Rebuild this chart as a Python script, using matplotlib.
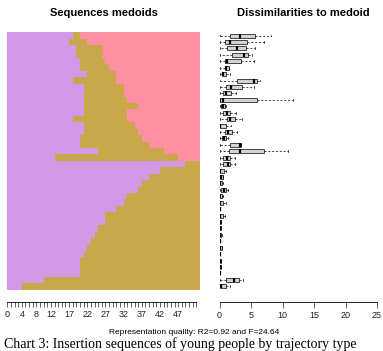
import matplotlib
matplotlib.use("Agg")
import matplotlib.pyplot as plt
import numpy as np

plt.rcParams['font.family'] = ['Liberation Sans', 'DejaVu Sans']

# ---------------- data ----------------
# state lengths of each medoid sequence (top row first)
purple_len = [18, 17, 19, 19, 20, 20, 22, 18, 21, 21, 21, 21, 21, 18, 21, 21, 20, 20, 25, 13,
              49, 42, 39, 37, 36, 33, 32, 30, 27, 27, 25, 24, 23, 22, 21, 20, 20, 20, 10, 4]
tan_len = [2, 5, 7, 7, 7, 8, 8, 12, 11, 11, 12, 15, 12, 15, 14, 15, 17, 19, 18, 34,
           4, 11, 14, 16, 17, 20, 21, 23, 26, 26, 28, 29, 30, 31, 32, 33, 33, 33, 43, 49]
seq_length = 53
pos_labels = ["0", "4", "8", "12", "17", "22", "27", "32", "37", "42", "47"]

# dissimilarity box statistics per medoid (top row first)
q1 = [1.7, 0.9, 1.2, 2.0, 0.8, 0.8, 0.35, 2.7, 1.0, 0.5, 0.15, 0.2, 0.5, 1.2, 0.0, 0.8, 0.35, 1.7, 1.5, 0.6,
      0.6, 0.0, 0.1, 0.0, 0.3, 0.0, 0.0, 0.0, 0.0, 0.0, 0.0, 0.0, 0.0, 0.0, 0.0, 0.0, 0.0, 0.0, 1.0, 0.0]
med = [3.3, 1.7, 2.7, 3.9, 1.2, 1.1, 0.6, 5.4, 1.8, 1.1, 0.5, 0.6, 1.2, 1.7, 0.1, 1.3, 0.7, 3.3, 3.25, 1.2,
       1.3, 0.1, 0.3, 0.1, 0.7, 0.1, 0.1, 0.0, 0.1, 0.1, 0.1, 0.1, 0.0, 0.1, 0.0, 0.1, 0.1, 0.0, 2.35, 0.3]
q3 = [5.6, 4.4, 4.2, 4.6, 3.4, 1.5, 1.0, 5.9, 3.6, 1.9, 6.0, 0.9, 1.7, 2.5, 1.0, 2.0, 1.0, 3.4, 7.1, 1.7,
      1.7, 0.7, 0.5, 0.4, 1.1, 0.4, 0.5, 0.05, 0.5, 0.3, 0.3, 0.3, 0.1, 0.35, 0.1, 0.3, 0.3, 0.1, 3.1, 1.1]
whi_hi = [8.2, 7.1, 5.7, 5.1, 5.5, 1.5, 1.7, 6.5, 5.5, 2.6, 11.6, 1.1, 2.6, 3.5, 1.9, 2.8, 1.3, 3.4, 10.8, 2.5,
          2.5, 1.1, 0.6, 0.6, 1.3, 0.6, 1.0, 0.1, 0.9, 0.3, 0.3, 0.35, 0.1, 0.35, 0.1, 0.3, 0.3, 0.1, 3.7, 1.6]
whi_lo = [0.0] * 40
diss_ticks = [0, 5, 10, 15, 20, 25]

title_left = "Sequences medoids"
title_right = "Dissimilarities to medoid"
xlab = "Representation quality: R2=0.92 and F=24.64"
caption = "Chart 3: Insertion sequences of young people by trajectory type"

col_purple = "#D598E7"
col_tan = "#C8A84A"
col_pink = "#FF8FA3"

# ---------------- figure ----------------
W, H = 383, 351
fig = plt.figure(figsize=(W / 100, H / 100), dpi=100)

top_px, bot_px = 32.3, 289.5
axL = fig.add_axes([7.3 / W, 1 - bot_px / H, (200 - 7.3) / W, (bot_px - top_px) / H])
axR = fig.add_axes([219.5 / W, 1 - bot_px / H, (377 - 219.5) / W, (bot_px - top_px) / H])

n = len(purple_len)
ypos = np.arange(n, 0, -1)
p = np.array(purple_len)
t = np.array(tan_len)
k = seq_length - p - t

axL.barh(ypos, p, left=0, height=1.0, color=col_purple, linewidth=0)
axL.barh(ypos, t, left=p, height=1.0, color=col_tan, linewidth=0)
axL.barh(ypos, k, left=p + t, height=1.0, color=col_pink, linewidth=0)
axL.set_xlim(0, seq_length)
axL.set_ylim(0.5, n + 0.5)
for s in ['top', 'right', 'left']:
    axL.spines[s].set_visible(False)
axL.spines['bottom'].set_position(('outward', 9))
axL.spines['bottom'].set_linewidth(0.6)
axL.spines['bottom'].set_bounds(0, seq_length - 1)
axL.set_yticks([])
axL.set_xticks(np.arange(0, seq_length))
lab = [str(i) if str(i) in pos_labels else "" for i in range(seq_length)]
axL.set_xticklabels(lab, fontsize=6.5)
axL.tick_params(axis='x', length=3.5, width=0.5, pad=2.5, colors='#222222')

# boxplots
stats = []
for i in range(n):
    stats.append(dict(med=med[i], q1=q1[i], q3=q3[i], whislo=whi_lo[i], whishi=whi_hi[i]))
axR.bxp(stats, positions=ypos, widths=0.62, vert=False, showfliers=False, patch_artist=True,
        boxprops=dict(facecolor='#D3D3D3', edgecolor='black', linewidth=0.5),
        medianprops=dict(color='black', linewidth=1.6),
        whiskerprops=dict(color='black', linewidth=0.5, linestyle=(0, (3, 2.5))),
        capprops=dict(color='black', linewidth=0.5), capwidths=0.3)
axR.set_xlim(0, 25)
axR.set_ylim(0.5, n + 0.5)
for s in ['top', 'right', 'left']:
    axR.spines[s].set_visible(False)
axR.spines['bottom'].set_position(('outward', 9))
axR.spines['bottom'].set_linewidth(0.6)
axR.spines['bottom'].set_bounds(0, 25)
axR.set_yticks([])
axR.set_xticks(diss_ticks)
axR.set_xticklabels([str(v) for v in diss_ticks], fontsize=6.5)
axR.tick_params(axis='x', length=4, width=0.5, pad=2.5, colors='#222222')

fig.text(103.5 / W, 1 - 13.3 / H, title_left, ha='center', va='center', fontsize=8, fontweight='bold')
fig.text(303 / W, 1 - 13.3 / H, title_right, ha='center', va='center', fontsize=8, fontweight='bold')
fig.text(194.5 / W, 1 - 333 / H, xlab, ha='center', va='center', fontsize=6)
fig.text(4 / W, 1 - 348 / H, caption, ha='left', va='baseline', fontsize=10,
         family=['Liberation Serif', 'DejaVu Serif'])

fig.savefig("out.png", dpi=100)
